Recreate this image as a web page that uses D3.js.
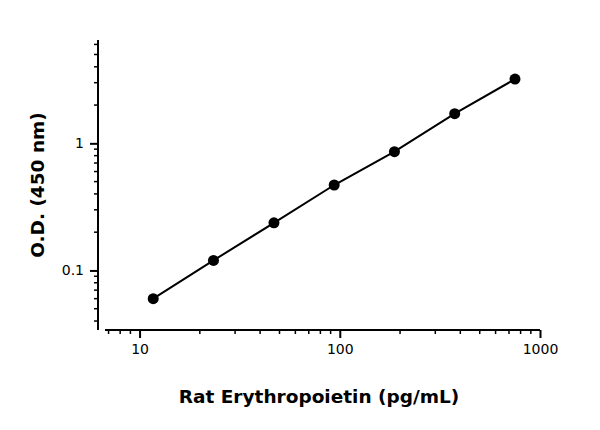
<!DOCTYPE html>
<html><head><meta charset="utf-8">
<script src="https://cdn.jsdelivr.net/npm/d3@7"></script>
<style>body{margin:0;background:#fff}</style>
</head><body><div id="chart"></div>
<script>
// data
var conc = [11.7, 23.4, 46.9, 93.8, 187.5, 375, 750];
var od = [0.060, 0.12, 0.237, 0.47, 0.86, 1.71, 3.2];
var xTicks = [10, 100, 1000];
var yTicks = [0.1, 1];

var svg = d3.select("#chart").append("svg").attr("width", 600).attr("height", 430);
var x = d3.scaleLog().domain([6.2, 1000]).range([98, 540]);
var y = d3.scaleLog().domain([0.034, 6.5]).range([330, 40]);

var xMinor = [], yMinor = [];
[1, 10, 100].forEach(function(d){ for (var k = 2; k < 10; k++) if (d*k > 6.2) xMinor.push(d*k); });
[0.01, 0.1, 1].forEach(function(d){ for (var k = 2; k < 10; k++) { var v = d*k; if (v > 0.034 && v < 6.5) yMinor.push(v); } });

function styleAxis(g){
  g.selectAll("path,line").attr("stroke", "#000").attr("stroke-width", 2);
  g.selectAll("text").attr("font-family", "'DejaVu Sans', sans-serif").attr("font-size", 14).attr("fill", "#000");
}

var gx = svg.append("g").attr("transform", "translate(0,330)")
  .call(d3.axisBottom(x).tickValues(xTicks).tickFormat(d3.format("d")).tickSize(8).tickPadding(6));
gx.select(".domain").attr("d", "M105,0H540");
styleAxis(gx);
gx.selectAll(".minor").data(xMinor).enter().append("line")
  .attr("x1", d => x(d)).attr("x2", d => x(d)).attr("y1", 0).attr("y2", 4)
  .attr("stroke", "#000").attr("stroke-width", 1.5);

var gy = svg.append("g").attr("transform", "translate(98,0)")
  .call(d3.axisLeft(y).tickValues(yTicks).tickFormat(d => d).tickSize(8).tickPadding(6));
gy.select(".domain").attr("d", "M0,40V330");
styleAxis(gy);
gy.selectAll(".minor").data(yMinor).enter().append("line")
  .attr("y1", d => y(d)).attr("y2", d => y(d)).attr("x1", 0).attr("x2", -4)
  .attr("stroke", "#000").attr("stroke-width", 1.5);

svg.append("path").datum(conc.map((c, i) => [c, od[i]]))
  .attr("fill", "none").attr("stroke", "#000").attr("stroke-width", 2)
  .attr("d", d3.line().x(d => x(d[0])).y(d => y(d[1])));

svg.selectAll(".pt").data(conc).enter().append("circle")
  .attr("cx", d => x(d)).attr("cy", (d, i) => y(od[i])).attr("r", 5.5).attr("fill", "#000");

svg.append("text").attr("x", 319).attr("y", 403).attr("text-anchor", "middle")
  .attr("font-family", "'DejaVu Sans', sans-serif").attr("font-weight", "bold").attr("font-size", 18.5)
  .text("Rat Erythropoietin (pg/mL)");
svg.append("text").attr("transform", "translate(44,185) rotate(-90)").attr("text-anchor", "middle")
  .attr("font-family", "'DejaVu Sans', sans-serif").attr("font-weight", "bold").attr("font-size", 18.5)
  .text("O.D. (450 nm)");
</script></body></html>
